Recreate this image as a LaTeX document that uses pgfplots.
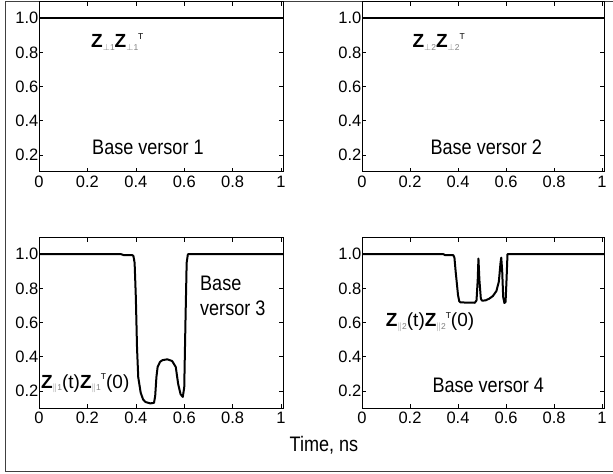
\documentclass[border=0pt]{standalone}
\usepackage{pgfplots}
\pgfplotsset{compat=1.18}
\usepackage{fontspec}
\setmainfont{Liberation Sans}
\newcommand{\tfont}{\fontsize{16.5bp}{18bp}\selectfont}
\pgfplotsset{
  zline/.style={black, line width=2bp, line join=round, mark=none},
  myax/.style={
    scale only axis, width=244bp, height=170bp,
    xmin=0, xmax=1.008, ymin=0.1, ymax=1.095,
    xtick={0,0.2,...,1.0}, ytick={0.2,0.4,...,1.0},
    /pgf/number format/assume math mode=true,
    yticklabel style={font=\tfont, /pgf/number format/fixed,/pgf/number format/precision=1,/pgf/number format/fixed zerofill, inner sep=0.5bp},
    xticklabel style={font=\tfont, inner sep=1bp, yshift=-3bp},
    major tick length=4bp,
    tick style={black, line width=0.6bp},
    axis line style={line width=1bp},
    clip=false,
  }
}
\newcommand{\lab}[1]{\scalebox{0.86}[1]{\fontsize{21bp}{23bp}\selectfont #1}}
\newcommand{\zl}{\fontsize{19bp}{20bp}\selectfont}
\newcommand{\zsub}[1]{\raisebox{-2.5bp}{\textcolor{gray}{\fontsize{8.5bp}{8.5bp}\selectfont #1}}}
\newcommand{\zsup}[1]{\raisebox{8.5bp}{\fontsize{8.5bp}{8.5bp}\selectfont #1}}
\begin{document}
\begin{tikzpicture}
\path[use as bounding box] (0bp,0bp) rectangle (613bp,474bp);
\draw[gray!50!black, line width=1bp] (613bp,2.3bp)--(5bp,2.3bp)--(5bp,472bp)--(613bp,472bp);
% top-left
\begin{axis}[myax, at={(39bp,302bp)}, anchor=south west]
\addplot[zline] coordinates {(0,1) (1.008,1)};
\node[anchor=base west, inner sep=0] at (axis cs:0.215,0.828) {\zl\textbf{Z}\zsub{$\perp$1}\textbf{Z}\zsub{$\perp$1}\zsup{T}};
\node[anchor=base west, inner sep=0] at (axis cs:0.219,0.2) {\lab{Base versor 1}};
\end{axis}
% top-right
\begin{axis}[myax, width=242bp, at={(362bp,302bp)}, anchor=south west]
\addplot[zline] coordinates {(0,1) (1.008,1)};
\node[anchor=base west, inner sep=0] at (axis cs:0.21,0.828) {\zl\textbf{Z}\zsub{$\perp$2}\textbf{Z}\zsub{$\perp$2}\zsup{T}};
\node[anchor=base west, inner sep=0] at (axis cs:0.285,0.2) {\lab{Base versor 2}};
\end{axis}
% bottom-left
\begin{axis}[myax, at={(39bp,66bp)}, anchor=south west]
\addplot[zline] coordinates {
(0,1) (0.34,1) (0.35,0.995) (0.385,0.995) (0.39,0.99) (0.395,0.95) (0.40,0.75)
(0.405,0.45) (0.41,0.28) (0.42,0.19) (0.43,0.15) (0.44,0.135) (0.46,0.127)
(0.475,0.13) (0.48,0.17) (0.485,0.28) (0.49,0.34) (0.50,0.37) (0.51,0.38)
(0.53,0.385) (0.55,0.375) (0.565,0.34) (0.575,0.24) (0.585,0.18) (0.594,0.165)
(0.60,0.22) (0.605,0.6) (0.61,0.95) (0.615,1.0) (1.008,1)};
\node[anchor=base west, inner sep=0] at (axis cs:0.665,0.788) {\lab{Base}};
\node[anchor=base west, inner sep=0] at (axis cs:0.665,0.641) {\lab{versor 3}};
\node[anchor=base west, inner sep=0] at (axis cs:0.008,0.217) {\zl\textbf{Z}\zsub{$\|$1}(t)\textbf{Z}\zsub{$\|$1}\zsup{T}(0)};
\end{axis}
% bottom-right
\begin{axis}[myax, width=242bp, at={(362bp,66bp)}, anchor=south west]
\addplot[zline] coordinates {
(0,1) (0.34,1) (0.345,0.995) (0.38,0.995) (0.385,0.98) (0.39,0.9) (0.40,0.76)
(0.405,0.725) (0.41,0.718) (0.47,0.716) (0.477,0.73) (0.482,0.85) (0.485,0.975)
(0.489,0.85) (0.495,0.74) (0.50,0.728) (0.515,0.73) (0.53,0.74) (0.545,0.755)
(0.56,0.785) (0.57,0.84) (0.577,0.95) (0.58,0.98) (0.584,0.9) (0.588,0.75)
(0.593,0.715) (0.598,0.72) (0.602,0.85) (0.606,1.0) (1.008,1)};
\node[anchor=base west, inner sep=0] at (axis cs:0.099,0.576) {\zl\textbf{Z}\zsub{$\|$2}(t)\textbf{Z}\zsub{$\|$2}\zsup{T}(0)};
\node[anchor=base west, inner sep=0] at (axis cs:0.293,0.188) {\lab{Base versor 4}};
\end{axis}
\node[anchor=base, inner sep=0] at (324bp,22.3bp) {\lab{Time, ns}};
\end{tikzpicture}
\end{document}
